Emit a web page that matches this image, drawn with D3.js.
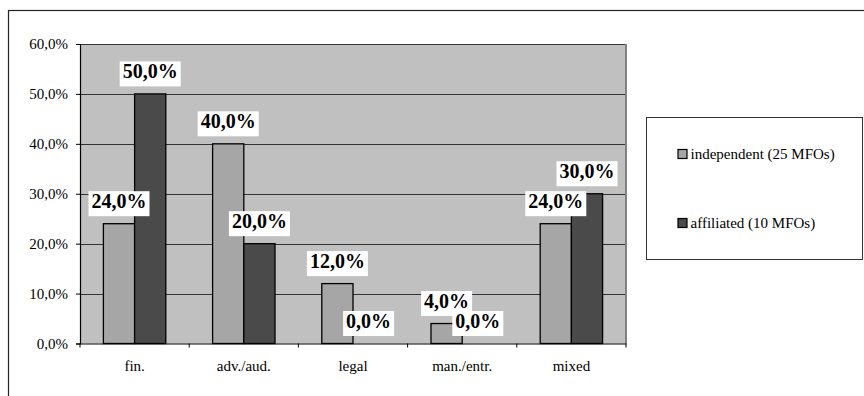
<!DOCTYPE html>
<html>
<head>
<meta charset="utf-8">
<script src="https://cdn.jsdelivr.net/npm/d3@7/dist/d3.min.js"></script>
<style>
  html, body { margin: 0; padding: 0; background: #fff; }
  svg { display: block; }
  svg text { font-family: "Liberation Serif", "Times New Roman", Times, Tinos, "DejaVu Serif", "Noto Serif", serif !important; }
</style>
</head>
<body>
<svg id="chart" width="864" height="396"></svg>
<script>
// Share of MFOs by type of founder background
const categories = ["fin.", "adv./aud.", "legal", "man./entr.", "mixed"];
const seriesNames = ["independent (25 MFOs)", "affiliated (10 MFOs)"];
const independent = [24.0, 40.0, 12.0, 4.0, 24.0];
const affiliated = [50.0, 20.0, 0.0, 0.0, 30.0];
const yTicks = [0, 10, 20, 30, 40, 50, 60];
const seriesColors = ["#a6a6a6", "#4a4a4a"];

const fmt = v => v.toFixed(1).replace(".", ",") + "%";

const svg = d3.select("#chart");

// Outer chart frame (open to the right and bottom edges)
svg.append("rect")
  .attr("x", 8.5).attr("y", 10.5)
  .attr("width", 900).attr("height", 420)
  .attr("fill", "none").attr("stroke", "#222").attr("stroke-width", 1.2);

const plot = { left: 80, right: 626, top: 44, bottom: 343.5 };

const x = d3.scaleBand().domain(categories).range([plot.left, plot.right]);
const inner = d3.scaleBand().domain([0, 1])
  .range([0, x.bandwidth()]).paddingInner(0).paddingOuter(0.75);
const y = d3.scaleLinear().domain([0, 60]).range([plot.bottom, plot.top]);

// Plot area background
svg.append("rect")
  .attr("x", plot.left).attr("y", plot.top)
  .attr("width", plot.right - plot.left).attr("height", plot.bottom - plot.top)
  .attr("fill", "#c0c0c0");

// Right edge of plot area
svg.append("line")
  .attr("x1", plot.right).attr("x2", plot.right)
  .attr("y1", plot.top).attr("y2", plot.bottom)
  .attr("stroke", "#808080").attr("stroke-width", 2);

// Horizontal gridlines
svg.append("g").selectAll("line")
  .data(yTicks.filter(t => t > 0))
  .join("line")
  .attr("x1", plot.left).attr("x2", plot.right - 1)
  .attr("y1", d => Math.round(y(d)) + 0.5).attr("y2", d => Math.round(y(d)) + 0.5)
  .attr("stroke", "#333").attr("stroke-width", 1);

// Bars
const data = categories.map((c, i) => ({ cat: c, vals: [independent[i], affiliated[i]] }));
const groups = svg.append("g").selectAll("g")
  .data(data).join("g")
  .attr("transform", d => `translate(${x(d.cat)},0)`);

groups.selectAll("rect")
  .data(d => d.vals.map((v, s) => ({ v, s })))
  .join("rect")
  .attr("x", d => inner(d.s))
  .attr("width", inner.bandwidth())
  .attr("y", d => y(d.v))
  .attr("height", d => y(0) - y(d.v))
  .attr("fill", d => seriesColors[d.s])
  .attr("stroke", "#000").attr("stroke-width", 1.3);

// Y axis
const yAxis = svg.append("g")
  .attr("transform", `translate(${plot.left},0)`)
  .call(d3.axisLeft(y).tickValues(yTicks).tickFormat(fmt).tickSize(4).tickPadding(8));
yAxis.attr("font-family", null);
yAxis.select(".domain").attr("stroke", "#000").attr("stroke-width", 1.2);
yAxis.selectAll(".tick line").attr("stroke", "#000");
yAxis.selectAll("text").attr("font-size", 15).attr("fill", "#000");

// X axis
const xAxis = svg.append("g")
  .attr("transform", `translate(0,${plot.bottom})`)
  .call(d3.axisBottom(x).tickSize(0).tickPadding(0));
xAxis.attr("font-family", null);
xAxis.select(".domain").attr("stroke", "#000").attr("stroke-width", 1.2);
xAxis.selectAll("text")
  .attr("font-size", 15)
  .attr("fill", "#000").attr("dy", 0).attr("y", 27.5);
// Category separators
svg.append("g").selectAll("line")
  .data(d3.range(categories.length + 1))
  .join("line")
  .attr("x1", i => plot.left + i * x.step()).attr("x2", i => plot.left + i * x.step())
  .attr("y1", plot.bottom).attr("y2", plot.bottom + 4)
  .attr("stroke", "#000");

// Value labels with white boxes
const labelData = [];
data.forEach(d => d.vals.forEach((v, s) => labelData.push({
  cx: x(d.cat) + inner(s) + inner.bandwidth() / 2, v
})));
const labels = svg.append("g").selectAll("g")
  .data(labelData).join("g");
labels.append("text")
  .attr("x", d => d.cx)
  .attr("y", d => y(d.v) - 15.5)
  .attr("text-anchor", "middle")
  .attr("font-size", 20).attr("font-weight", "bold").attr("fill", "#000")
  .text(d => fmt(d.v));
labels.each(function() {
  const g = d3.select(this);
  const b = g.select("text").node().getBBox();
  g.insert("rect", "text")
    .attr("x", b.x - 3).attr("y", b.y + 1)
    .attr("width", b.width + 6).attr("height", b.height + 3)
    .attr("fill", "#fff");
});

// Legend
const legend = svg.append("g");
legend.append("rect")
  .attr("x", 646.5).attr("y", 117.5).attr("width", 216).attr("height", 142)
  .attr("fill", "#fff").attr("stroke", "#333").attr("stroke-width", 1);
const items = legend.selectAll("g.item")
  .data(seriesNames).join("g").attr("class", "item")
  .attr("transform", (d, i) => `translate(678,${149.5 + i * 69})`);
items.append("rect")
  .attr("width", 9).attr("height", 9)
  .attr("fill", (d, i) => seriesColors[i])
  .attr("stroke", "#000").attr("stroke-width", 1.2);
items.append("text")
  .attr("x", 12.5).attr("y", 9)
  .attr("font-size", 15).attr("fill", "#000")
  .text(d => d);
</script>
</body>
</html>
